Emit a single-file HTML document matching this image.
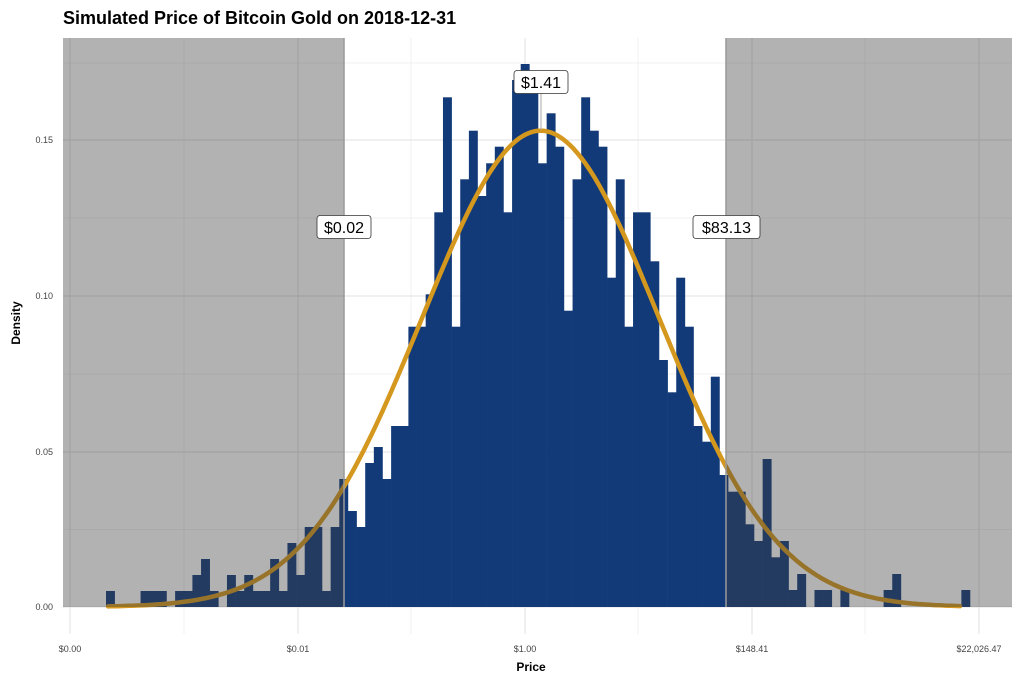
<!DOCTYPE html>
<html><head><meta charset="utf-8"><style>
body{margin:0;background:#fff;}
svg{display:block;font-family:"Liberation Sans",sans-serif;}
</style></head><body>
<svg id="s" width="1024" height="683" xmlns="http://www.w3.org/2000/svg">
<g id="grid" stroke="#e6e6e6" stroke-width="1"></g>
<g id="bars" fill="#123a78"></g>
<polyline id="curve" fill="none" stroke="#d4981e" stroke-width="4.5" stroke-linecap="round"/>
<rect x="63" y="38" width="281" height="569" fill="rgb(63,63,63)" fill-opacity="0.4"/>
<rect x="726" y="38" width="286" height="569" fill="rgb(63,63,63)" fill-opacity="0.4"/>
<line x1="344" y1="38" x2="344" y2="607" stroke="#999" stroke-width="1.5"/>
<line x1="726" y1="38" x2="726" y2="607" stroke="#999" stroke-width="1.5"/>
<line x1="541" y1="90" x2="541" y2="130" stroke="#aaa" stroke-width="1"/>
<g font-size="16" text-anchor="middle" fill="#000">
<rect x="317" y="215.5" width="54" height="23" rx="3" fill="#fff" stroke="#333" stroke-width="0.8"/>
<text x="344" y="233">$0.02</text>
<rect x="514" y="70.5" width="54" height="23" rx="3" fill="#fff" stroke="#333" stroke-width="0.8"/>
<text x="541" y="88">$1.41</text>
<rect x="693" y="215.5" width="67" height="23" rx="3" fill="#fff" stroke="#333" stroke-width="0.8"/>
<text x="726.5" y="233">$83.13</text>
</g>
<g font-size="9" fill="#444" text-anchor="end">
<text x="53" y="610">0.00</text>
<text x="53" y="455">0.05</text>
<text x="53" y="299">0.10</text>
<text x="53" y="143">0.15</text>
</g>
<g font-size="9" fill="#444" text-anchor="middle">
<text x="70" y="652">$0.00</text>
<text x="298" y="652">$0.01</text>
<text x="525" y="652">$1.00</text>
<text x="752" y="652">$148.41</text>
<text x="979" y="652">$22,026.47</text>
</g>
<text x="531" y="671" font-size="12" font-weight="bold" text-anchor="middle">Price</text>
<text transform="translate(20,323) rotate(-90)" font-size="12" font-weight="bold" text-anchor="middle">Density</text>
<text x="63" y="24" font-size="18" font-weight="bold">Simulated Price of Bitcoin Gold on 2018-12-31</text>
</svg>
<script>
var NS="http://www.w3.org/2000/svg";
var g=document.getElementById("grid");
function ln(x1,y1,x2,y2,w,c){var l=document.createElementNS(NS,"line");l.setAttribute("x1",x1);l.setAttribute("y1",y1);l.setAttribute("x2",x2);l.setAttribute("y2",y2);l.setAttribute("stroke-width",w);if(c)l.setAttribute("stroke",c);g.appendChild(l);}
[607,452,296,140].forEach(function(y){ln(63,y,1012,y,1.2);});
[529.5,374,218,63].forEach(function(y){ln(63,y,1012,y,0.6);});
[70,298,525,752,979].forEach(function(x){ln(x,38,x,634,1.2);});
[184,411,638,865].forEach(function(x){ln(x,38,x,634,0.6);});
var c=[1,0,0,0,1,1,1,0,1,1,2,3,1,0,2,1,2,1,1,3,1,4,2,5,5,1,5,8,6,5,9,10,8];
var tops=c.map(function(k){return 607-k*16;});
tops=tops.concat([426,426,326.7,326.7,294.3,212.3,97.3,326.7,179.3,130.7,196,163.3,146.7,212.3,80,64,82,163.3,113.3,146.7,310.7,179.3,97.3,130.7,146.7,277.7,179.3,326.7,212.3,212.3,261.3,360,392.3,277.7,326.7,426,441.7,376.7,475,491.7,491.7,524.3,541,459,557.3,541,590,574,607,590,590,607,590,607,607,607,607,590,574,607,607,607,607,607,607,607,590]);
var b=document.getElementById("bars"),w=8.64;
tops.forEach(function(t,i){if(t>=606.5)return;var r=document.createElementNS(NS,"rect");r.setAttribute("x",(106+i*w).toFixed(2));r.setAttribute("y",t);r.setAttribute("width",(w+0.3).toFixed(2));r.setAttribute("height",(607-t).toFixed(2));b.appendChild(r);});
var pts=[];for(var x=108;x<=961;x+=3){var z=(x-540.6)/118.6;pts.push(x+","+(607-476.3*Math.exp(-z*z/2)).toFixed(1));}
document.getElementById("curve").setAttribute("points",pts.join(" "));
</script>
</body></html>
